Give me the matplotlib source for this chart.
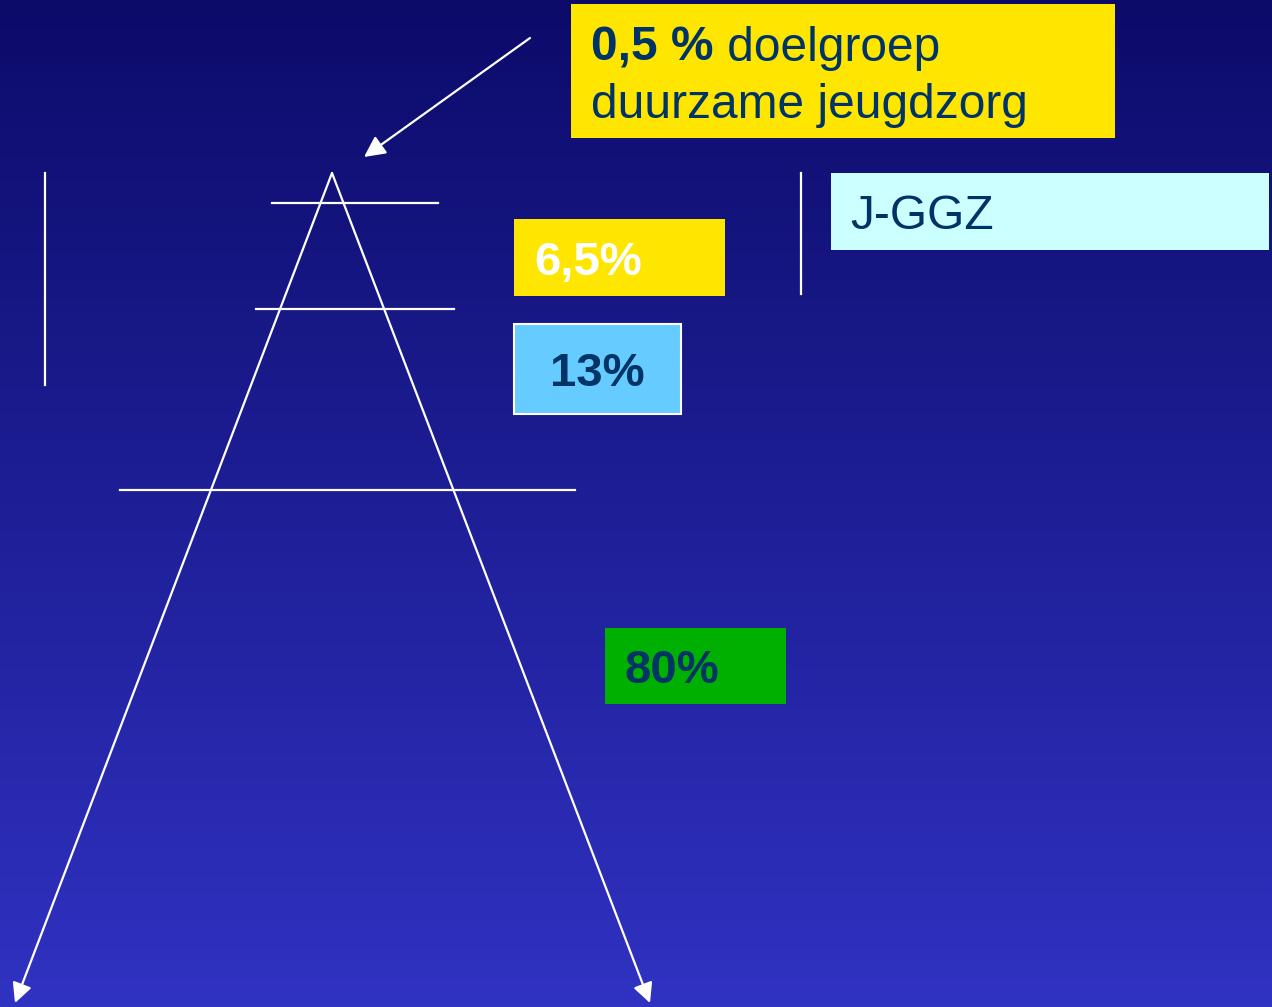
import numpy as np
import matplotlib.pyplot as plt
from matplotlib.patches import Rectangle

plt.rcParams['font.family'] = ['Liberation Sans', 'DejaVu Sans']

# Dia-inhoud (pixels van de dia, 1272 x 1007)
box_labels = ["6,5%", "13%", "80%", "J-GGZ"]
box_x = [514, 514, 605, 831]
box_y = [219, 324, 628, 173]
box_w = [211, 167, 181, 438]
box_h = [77, 90, 76, 77]
box_colors = ["#ffe600", "#66ccff", "#00b000", "#ccffff"]
box_text_colors = ["white", "#003366", "#003366", "#003366"]
box_text_bold = [True, True, True, False]
box_text_x = [534, 550, 625, 850]

top_bold = "0,5 %"
top_rest = " doelgroep"
top_line2 = "duurzame jeugdzorg"

apex = (332, 173)
base_left = (15, 1003)
base_right = (650, 1003)
hlines_y = [203, 309, 490]
hlines_x0 = [272, 256, 120]
hlines_x1 = [438, 454, 575]
vlines_x = [45, 801]
vlines_y0 = [173, 173]
vlines_y1 = [385, 294]

W, H = 1272, 1007
fig = plt.figure(figsize=(W / 100, H / 100), dpi=100)
ax = fig.add_axes([0, 0, 1, 1])
ax.set_xlim(0, W)
ax.set_ylim(H, 0)
ax.axis('off')

# achtergrond verloop
top = np.array([12, 11, 106]) / 255
bottom = np.array([48, 50, 194]) / 255
t = np.linspace(0, 1, 256)[:, None]
grad = top + (bottom - top) * t
ax.imshow(grad[:, None, :], extent=(0, W, H, 0), aspect='auto', zorder=0)

white = dict(color='white', lw=1.6)

# piramide-lijnen met pijlen
for end in (base_left, base_right):
    ax.annotate("", xy=end, xytext=apex,
                arrowprops=dict(arrowstyle='-|>', color='white', lw=1.6,
                                mutation_scale=30, shrinkA=0, shrinkB=0))
for y, x0, x1 in zip(hlines_y, hlines_x0, hlines_x1):
    ax.plot([x0, x1], [y, y], **white)
for x, y0, y1 in zip(vlines_x, vlines_y0, vlines_y1):
    ax.plot([x, x], [y0, y1], **white)

ax.annotate("", xy=(364, 157), xytext=(530, 38),
            arrowprops=dict(arrowstyle='-|>', color='white', lw=1.6,
                            mutation_scale=32, shrinkA=0, shrinkB=0))

# gele kop
ax.add_patch(Rectangle((571, 4), 544, 134, facecolor="#ffe600", zorder=2))
t1 = ax.text(591, 61, top_bold, fontsize=34.5, fontweight='bold',
             color="#003366", va='baseline', zorder=3)
fig.canvas.draw()
bb = t1.get_window_extent()
ax.text(591 + bb.width, 61, top_rest, fontsize=34.5, color="#003366",
        va='baseline', zorder=3)
ax.text(591, 118, top_line2, fontsize=34.5, color="#003366",
        va='baseline', zorder=3)

# vakjes
for lab, x, y, w, h, fc, tc, bold, tx in zip(box_labels, box_x, box_y, box_w,
                                             box_h, box_colors, box_text_colors,
                                             box_text_bold, box_text_x):
    edge = 'white' if lab == "13%" else 'none'
    ax.add_patch(Rectangle((x, y), w, h, facecolor=fc, edgecolor=edge,
                           lw=1.5, zorder=2))
    ax.text(tx, y + h / 2 + 5, lab, fontsize=34.5 if not bold else 34,
            fontweight='bold' if bold else 'normal', color=tc,
            va='center', ha='left', zorder=3)

fig.savefig("out.png", dpi=100)
